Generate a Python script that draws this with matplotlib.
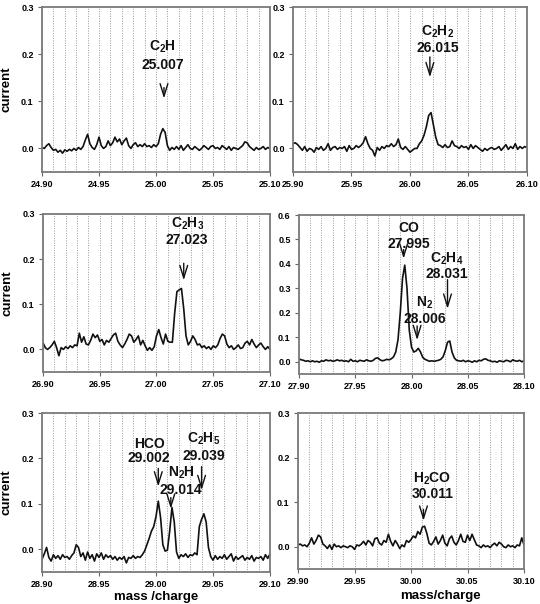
import numpy as np
import matplotlib
matplotlib.use('Agg')
import matplotlib.pyplot as plt
from matplotlib.ticker import MultipleLocator, FormatStrFormatter

plt.rcParams['font.family'] = ['Liberation Sans', 'DejaVu Sans']
plt.rcParams['font.weight'] = 'bold'
plt.rcParams['mathtext.fontset'] = 'custom'
plt.rcParams['mathtext.rm'] = 'Liberation Sans:bold'
plt.rcParams['mathtext.it'] = 'Liberation Sans:bold'
plt.rcParams['mathtext.bf'] = 'Liberation Sans:bold'

# sampling: 101 points, 0.002 apart, starting at each window start
window_starts = [24.90, 25.90, 26.90, 27.90, 28.90, 29.90]
step = 0.002

current_25 = [
    0.002, 0.000, 0.006, 0.010, 0.002, -0.004, -0.002, -0.008, -0.004, -0.010,
    -0.003, -0.006, -0.002, -0.005, 0.000, -0.004, 0.002, -0.002, 0.004, 0.018,
    0.030, 0.010, 0.002, -0.002, 0.008, 0.024, 0.006, 0.000, 0.004, 0.016,
    0.006, 0.012, 0.024, 0.014, 0.020, 0.008, 0.016, 0.022, 0.006, 0.000,
    0.008, 0.012, 0.004, 0.008, 0.004, 0.010, 0.004, 0.006, 0.002, 0.008,
    0.004, 0.010, 0.030, 0.042, 0.034, 0.006, -0.004, 0.002, -0.002, 0.004,
    -0.002, 0.006, -0.004, 0.002, 0.008, 0.000, -0.002, 0.004, 0.000, -0.004,
    0.000, 0.006, 0.002, -0.002, 0.004, 0.006, 0.000, 0.002, -0.002, 0.006,
    0.002, -0.002, 0.004, -0.004, 0.002, 0.000, -0.002, 0.002, 0.006, 0.014,
    0.012, 0.004, 0.000, -0.004, 0.002, -0.002, 0.000, 0.004, -0.002, 0.002,
    0.000]

current_26 = [
    0.010, 0.012, 0.008, 0.002, -0.004, 0.004, -0.006, 0.000, -0.002, -0.008,
    0.002, -0.002, 0.004, -0.004, 0.000, 0.010, -0.004, 0.002, 0.004, -0.002,
    0.002, 0.000, 0.004, -0.006, 0.006, -0.002, 0.000, 0.006, 0.002, 0.006,
    0.012, 0.025, 0.010, 0.000, -0.004, -0.016, 0.002, -0.004, 0.004, 0.000,
    0.006, 0.004, 0.010, 0.004, 0.008, 0.020, 0.002, -0.002, 0.004, -0.002,
    -0.008, -0.004, 0.000, 0.000, 0.010, 0.016, 0.028, 0.046, 0.070, 0.076,
    0.050, 0.024, 0.008, 0.006, 0.002, 0.008, 0.002, 0.004, 0.016, 0.006,
    0.004, 0.000, 0.006, 0.002, 0.004, -0.002, 0.008, 0.000, 0.006, 0.002,
    -0.002, -0.006, 0.000, -0.004, 0.000, 0.002, -0.002, 0.000, 0.004, -0.004,
    0.002, 0.008, -0.002, 0.004, 0.000, 0.010, -0.002, 0.004, 0.000, 0.004,
    0.002]

current_27 = [
    0.015, 0.004, 0.000, 0.004, 0.010, 0.018, 0.004, -0.014, 0.004, 0.000,
    0.006, 0.002, 0.008, 0.004, 0.010, 0.008, 0.036, 0.016, 0.028, 0.012,
    0.010, 0.020, 0.034, 0.026, 0.032, 0.018, 0.022, 0.010, 0.020, 0.016,
    0.024, 0.032, 0.036, 0.018, 0.010, 0.004, 0.012, 0.022, 0.034, 0.030,
    0.016, 0.022, 0.030, 0.010, 0.020, 0.008, -0.002, 0.004, -0.002, 0.006,
    0.030, 0.044, 0.026, 0.012, 0.034, 0.018, 0.016, 0.016, 0.080, 0.128,
    0.132, 0.135, 0.090, 0.030, 0.010, 0.018, 0.030, 0.022, 0.010, 0.012,
    0.004, 0.008, 0.002, 0.006, 0.000, 0.008, 0.004, 0.010, 0.024, 0.034,
    0.030, 0.012, 0.004, 0.008, 0.000, 0.004, 0.010, 0.002, 0.004, 0.014,
    0.018, 0.010, 0.022, 0.012, 0.004, 0.010, 0.014, 0.006, 0.000, 0.006,
    0.000]

current_28 = [
    0.012, 0.008, 0.006, 0.002, 0.004, 0.000, 0.004, 0.000, 0.002, -0.002,
    0.004, 0.002, 0.008, 0.004, 0.006, 0.002, 0.004, 0.008, 0.004, 0.006,
    0.002, 0.004, 0.000, 0.010, 0.002, 0.004, 0.000, 0.006, 0.004, 0.002,
    0.008, 0.004, 0.002, 0.006, 0.014, 0.016, 0.008, 0.004, 0.006, 0.010,
    0.008, 0.012, 0.020, 0.040, 0.090, 0.200, 0.340, 0.395, 0.300, 0.130,
    0.060, 0.040, 0.044, 0.055, 0.040, 0.018, 0.010, 0.006, 0.002, 0.004,
    0.002, 0.004, 0.006, 0.010, 0.020, 0.045, 0.080, 0.085, 0.040, 0.016,
    0.006, 0.004, 0.002, 0.006, 0.000, 0.004, 0.002, -0.002, 0.004, 0.000,
    0.006, 0.004, 0.010, 0.012, 0.006, 0.004, 0.000, 0.002, -0.002, 0.004,
    0.002, 0.000, 0.006, 0.004, 0.000, 0.008, 0.004, 0.002, 0.006, 0.000,
    0.004]

current_29 = [
    -0.022, -0.010, 0.004, -0.018, -0.026, -0.012, -0.020, -0.014, -0.022, -0.012,
    -0.018, -0.016, -0.022, -0.014, -0.008, 0.010, 0.004, -0.016, -0.008, -0.024,
    -0.006, -0.020, -0.012, -0.026, -0.010, -0.018, -0.008, -0.022, -0.012, -0.018,
    -0.014, -0.022, -0.016, -0.024, -0.018, -0.022, -0.016, -0.030, -0.018, -0.020,
    -0.014, -0.020, -0.016, -0.018, -0.012, -0.004, 0.010, 0.024, 0.040, 0.050,
    0.072, 0.106, 0.070, 0.010, -0.004, -0.002, 0.040, 0.092, 0.060, -0.006,
    -0.020, -0.012, -0.016, -0.010, -0.018, -0.012, -0.014, -0.008, -0.012, 0.050,
    0.066, 0.078, 0.060, 0.004, -0.016, -0.024, -0.014, -0.022, -0.016, -0.020,
    -0.012, -0.022, -0.016, -0.010, -0.026, -0.016, -0.022, -0.018, -0.014, -0.024,
    -0.018, -0.022, -0.014, -0.026, -0.018, -0.020, -0.016, -0.024, -0.012, -0.020,
    -0.010]

current_30 = [
    0.004, 0.006, 0.002, 0.004, 0.000, 0.008, 0.020, 0.006, 0.014, 0.026,
    0.022, 0.006, 0.002, -0.004, 0.004, -0.006, 0.006, 0.000, 0.002, -0.002,
    0.002, 0.000, -0.002, 0.002, 0.000, -0.006, 0.004, 0.002, 0.006, 0.012,
    0.004, 0.014, 0.010, 0.002, 0.018, 0.020, 0.008, 0.004, 0.014, 0.010,
    0.028, 0.012, 0.002, 0.014, 0.006, -0.004, 0.004, 0.000, 0.014, 0.010,
    0.016, 0.024, 0.020, 0.034, 0.028, 0.044, 0.046, 0.030, 0.008, 0.004,
    0.012, 0.022, 0.006, 0.014, 0.026, 0.008, 0.002, 0.018, 0.024, 0.010,
    0.004, 0.014, 0.028, 0.012, 0.010, 0.026, 0.014, 0.028, 0.016, 0.004,
    0.002, -0.002, 0.004, 0.000, 0.002, -0.002, 0.004, 0.008, 0.002, 0.010,
    0.006, 0.000, -0.002, 0.004, 0.000, 0.002, -0.002, 0.004, 0.002, 0.020,
    0.004]

y_tops = [0.3, 0.3, 0.3, 0.6, 0.3, 0.3]

# annotations per panel: (label, mass text, text x, label y, mass y, arrow x, arrow top, arrow bottom)
peaks = [
    [(r'C$_2$H', '25.007', 25.006, 0.215, 0.178, 25.007, 0.135, 0.100)],
    [(r'C$_2$H$_2$', '26.015', 26.024, 0.248, 0.212, 26.017, 0.200, 0.145)],
    [(r'C$_2$H$_3$', '27.023', 27.027, 0.278, 0.242, 27.024, 0.197, 0.147)],
    [('CO', '27.995', 27.998, 0.545, 0.482, 27.993, 0.470, 0.410),
     (r'N$_2$', '28.006', 28.012, 0.240, 0.175, 28.005, 0.158, 0.077),
     (r'C$_2$H$_4$', '28.031', 28.031, 0.420, 0.360, 28.032, 0.347, 0.205)],
    [('HCO', '29.002', 28.994, 0.232, 0.200, 29.002, 0.184, 0.132),
     (r'N$_2$H', '29.014', 29.022, 0.168, 0.130, 29.013, 0.120, 0.083),
     (r'C$_2$H$_5$', '29.039', 29.042, 0.243, 0.205, 29.040, 0.188, 0.124)],
    [(r'H$_2$CO', '30.011', 30.019, 0.153, 0.118, 30.011, 0.090, 0.052)],
]

# axes rectangles in figure fraction
boxes = [
    [0.0778, 0.7152, 0.4222, 0.2732],
    [0.5426, 0.7152, 0.4333, 0.2732],
    [0.0796, 0.3841, 0.4204, 0.2616],
    [0.5537, 0.3808, 0.4167, 0.2632],
    [0.0778, 0.0530, 0.4222, 0.2632],
    [0.5519, 0.0579, 0.4185, 0.2583],
]


def draw_panel(ax, start, values, ytop, marks):
    mass = start + step * np.arange(len(values))
    ax.plot(mass, values, color='#111111', lw=1.2)
    ax.set_xlim(start, start + 0.2)
    ax.set_ylim(-0.05, ytop)
    ax.xaxis.set_major_locator(MultipleLocator(0.05))
    ax.xaxis.set_major_formatter(FormatStrFormatter('%.2f'))
    ax.xaxis.set_minor_locator(MultipleLocator(0.01))
    ax.yaxis.set_major_locator(MultipleLocator(0.1))
    ax.yaxis.set_major_formatter(FormatStrFormatter('%.1f'))
    ax.grid(which='both', axis='x', color='#9a9a9a', ls=(0, (1, 1.5)), lw=0.7)
    ax.tick_params(which='major', labelsize=6.5, length=3, width=0.8,
                   color='#666666', pad=3)
    ax.tick_params(which='minor', length=0)
    for s in ax.spines.values():
        s.set_color('#7a7a7a')
        s.set_linewidth(1.3)
    for name, m, tx, ly, my, ax_x, a_top, a_bot in marks:
        ax.text(tx, ly, name, ha='center', va='center', fontsize=10,
                fontweight='bold', color='#111111')
        ax.text(tx, my, m, ha='center', va='center', fontsize=10,
                fontweight='bold', color='#111111')
        ax.annotate('', xy=(ax_x, a_bot), xytext=(ax_x, a_top),
                    arrowprops=dict(arrowstyle='->,head_length=0.9,head_width=0.28',
                                    color='#111111', lw=1.0))


fig = plt.figure(figsize=(5.4, 6.04), dpi=100)
series = [current_25, current_26, current_27, current_28, current_29, current_30]
axes = []
for i in range(6):
    ax = fig.add_axes(boxes[i])
    draw_panel(ax, window_starts[i], series[i], y_tops[i], peaks[i])
    axes.append(ax)

for i in (0, 2, 4):
    axes[i].set_ylabel('current', fontsize=9.5, fontweight='bold', labelpad=6)

axes[4].set_xlabel('mass /charge', fontsize=9.5, fontweight='bold')
axes[4].xaxis.set_label_coords(0.5, -0.12)
axes[5].set_xlabel('mass/charge', fontsize=9.5, fontweight='bold')
axes[5].xaxis.set_label_coords(0.63, -0.135)

fig.savefig('out.png', dpi=100)
plt.close(fig)
